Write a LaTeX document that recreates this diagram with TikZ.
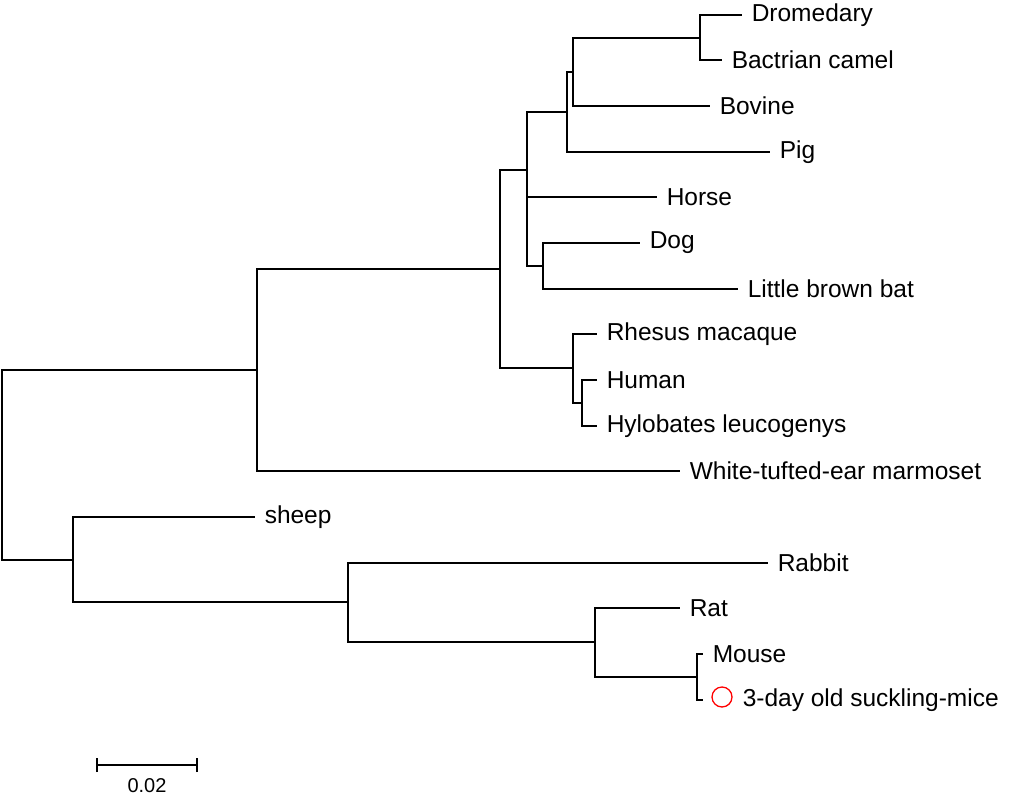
\documentclass[tikz,border=0pt]{standalone}
\usepackage{fontspec}
\setmainfont{Liberation Sans}
\begin{document}
\begin{tikzpicture}[x=1pt,y=-1pt,line width=1.5pt,
  leaf/.style={anchor=west,inner xsep=9pt,inner ysep=0pt,font=\fontsize{24.5}{26}\selectfont}]
\useasboundingbox (0,0) rectangle (1024,800);
% leaves
\node[leaf] (drom) at (742,15) {Dromedary};
\node[leaf] (bact) at (722,60) {Bactrian camel};
\node[leaf] (bov) at (710,106) {Bovine};
\node[leaf] (pig) at (770,152) {Pig};
\node[leaf] (horse) at (657,197) {Horse};
\node[leaf] (dog) at (640,243) {Dog};
\node[leaf] (bat) at (738,289) {Little brown bat};
\node[leaf] (rhes) at (597,334) {Rhesus macaque};
\node[leaf] (hum) at (597,380) {Human};
\node[leaf] (hyl) at (597,426) {Hylobates leucogenys};
\node[leaf] (marm) at (680,471) {White-tufted-ear marmoset};
\node[leaf] (sheep) at (255,517) {sheep};
\node[leaf] (rab) at (768,563) {Rabbit};
\node[leaf] (rat) at (680,608) {Rat};
\node[leaf] (mouse) at (703,654) {Mouse};
\node[leaf,inner xsep=39pt] (suck) at (703,700) {3-day old suckling-mice};
\node[draw=red,circle,minimum size=20pt,inner sep=0pt,line width=1.3pt] (circ) at (722,697) {};
% internal nodes
\coordinate (camel) at (700,38);
\coordinate (cb) at (573,72);
\coordinate (cbp) at (567,112);
\coordinate (db) at (543,266);
\coordinate (laur) at (527,170);
\coordinate (hh) at (582,403);
\coordinate (prim) at (573,368);
\coordinate (eu) at (500,269);
\coordinate (top) at (257,370);
\coordinate (mm) at (697,677);
\coordinate (rod) at (595,642);
\coordinate (glires) at (348,602);
\coordinate (bot) at (73,560);
\coordinate (root) at (2,465);
% edges
\draw (camel) |- (drom.west); \draw (camel) |- (bact.west);
\draw (cb) |- (camel); \draw (cb) |- (bov.west);
\draw (cbp) |- (cb); \draw (cbp) |- (pig.west);
\draw (db) |- (dog.west); \draw (db) |- (bat.west);
\draw (laur) |- (cbp); \draw (laur) |- (horse.west); \draw (laur) |- (db);
\draw (hh) |- (hum.west); \draw (hh) |- (hyl.west);
\draw (prim) |- (rhes.west); \draw (prim) |- (hh);
\draw (eu) |- (laur); \draw (eu) |- (prim);
\draw (top) |- (eu); \draw (top) |- (marm.west);
\draw (mm) |- (mouse.west); \draw (mm) |- (suck.west);
\draw (rod) |- (rat.west); \draw (rod) |- (mm);
\draw (glires) |- (rab.west); \draw (glires) |- (rod);
\draw (bot) |- (sheep.west); \draw (bot) |- (glires);
\draw (root) |- (top); \draw (root) |- (bot);
% scale bar
\coordinate (sa) at (97,765); \coordinate (sb) at (197,765);
\draw (sa) -- (sb);
\draw ([yshift=-7pt]sa) -- ([yshift=7pt]sa);
\draw ([yshift=-7pt]sb) -- ([yshift=7pt]sb);
\node[font=\fontsize{20}{22}\selectfont] (sl) at (147,786) {0.02};
\end{tikzpicture}
\end{document}
